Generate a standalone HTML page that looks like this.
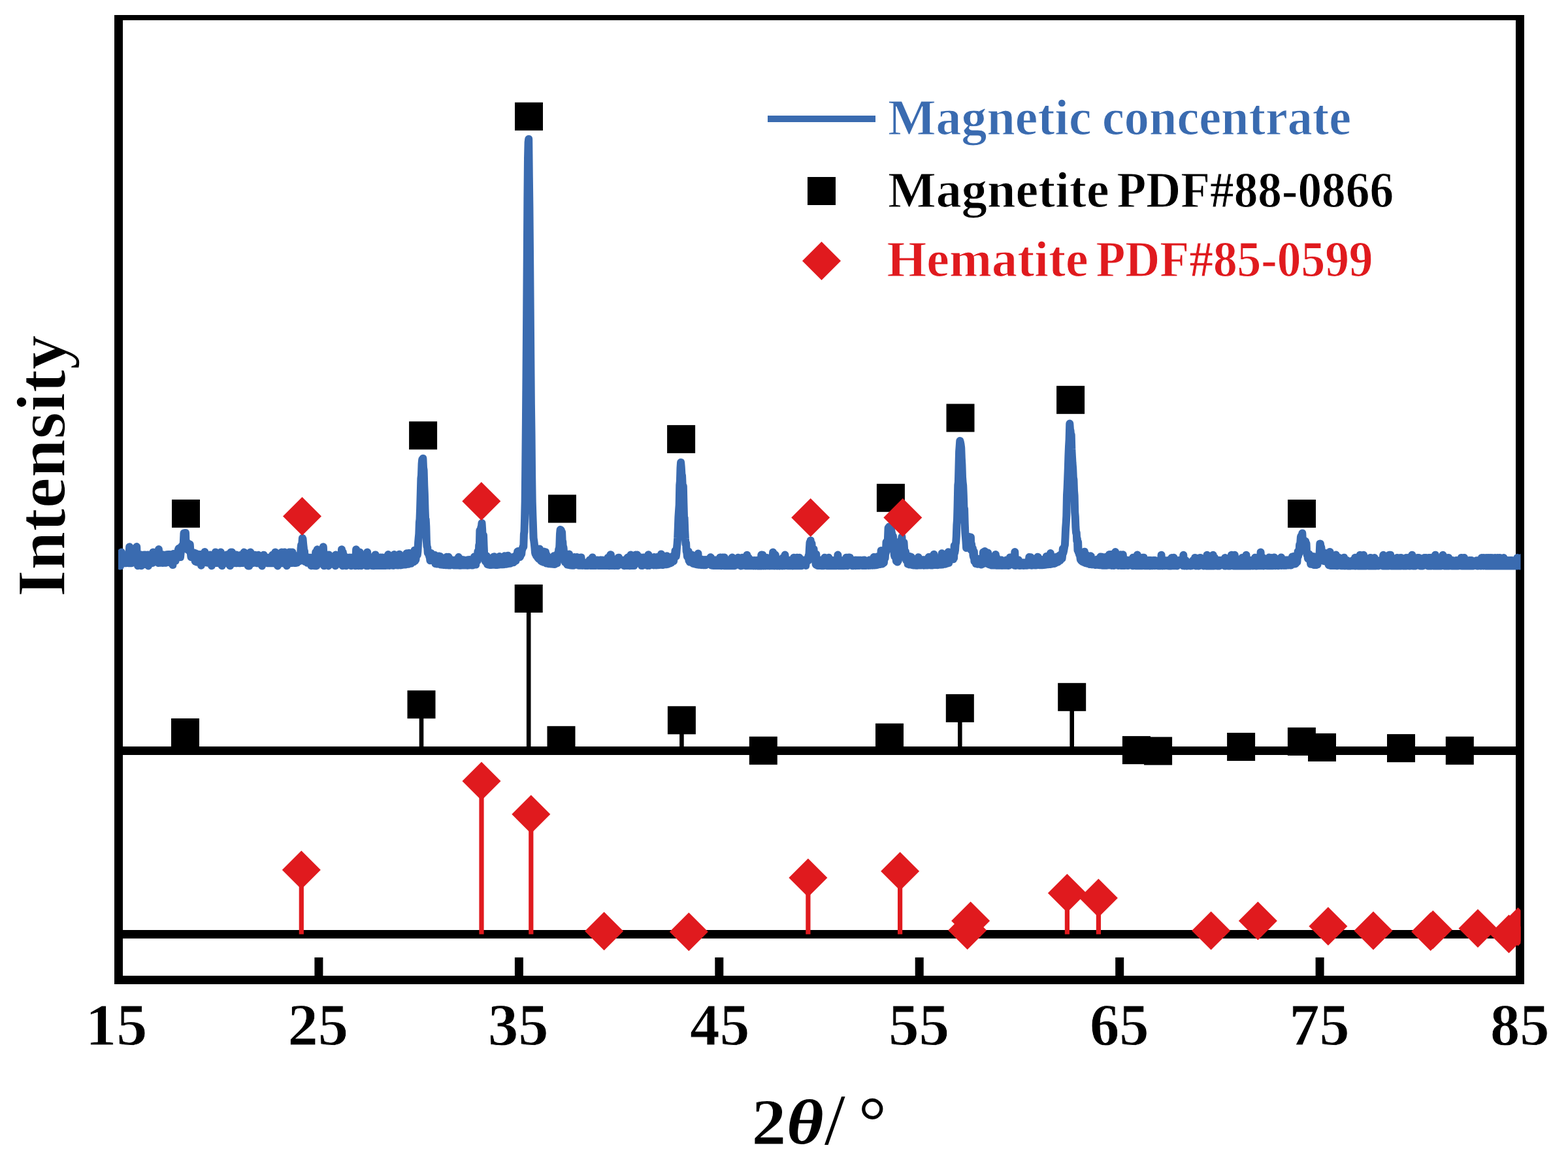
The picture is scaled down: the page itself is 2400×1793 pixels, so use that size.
<!DOCTYPE html>
<html><head><meta charset="utf-8"><title>XRD</title>
<style>
html,body{margin:0;padding:0;background:#fff;overflow:hidden;}
svg{display:block;}
</style></head>
<body>
<svg width="2400" height="1793" viewBox="0 0 2400 1793">
<rect width="2400" height="1793" fill="#fff"/>
<defs><clipPath id="pc"><rect x="181" y="31" width="2146.5" height="1463"/></clipPath></defs>
<!-- frame -->
<rect x="175" y="23" width="2158" height="8" fill="#000"/>
<rect x="175" y="1494" width="2158" height="13" fill="#000"/>
<rect x="175" y="23" width="13" height="1484" fill="#000"/>
<rect x="2320" y="23" width="13" height="1484" fill="#000"/>
<rect x="481.4" y="1466" width="13" height="28" fill="#000"/>
<rect x="787.9" y="1466" width="13" height="28" fill="#000"/>
<rect x="1094.3" y="1466" width="13" height="28" fill="#000"/>
<rect x="1400.7" y="1466" width="13" height="28" fill="#000"/>
<rect x="1707.2" y="1466" width="13" height="28" fill="#000"/>
<rect x="2013.6" y="1466" width="13" height="28" fill="#000"/>
<!-- baselines -->
<rect x="188" y="1143" width="2132" height="13" fill="#000"/>
<rect x="188" y="1424" width="2132" height="13" fill="#000"/>
<g clip-path="url(#pc)">
<rect x="280.2" y="1121.5" width="6.6" height="28.0" fill="#000"/>
<rect x="641.7" y="1078.7" width="6.6" height="70.8" fill="#000"/>
<rect x="805.9" y="916.5" width="6.6" height="233.0" fill="#000"/>
<rect x="855.7" y="1133.3" width="6.6" height="16.2" fill="#000"/>
<rect x="1040.1" y="1102.8" width="6.6" height="46.7" fill="#000"/>
<rect x="1358.2" y="1129.2" width="6.6" height="20.3" fill="#000"/>
<rect x="1466.0" y="1084.4" width="6.6" height="65.1" fill="#000"/>
<rect x="1637.4" y="1067.3" width="6.6" height="82.2" fill="#000"/>
<rect x="1896.3" y="1143.5" width="6.6" height="6.0" fill="#000"/>
<rect x="1989.1" y="1135.4" width="6.6" height="14.1" fill="#000"/>
<rect x="2020.2" y="1144.4" width="6.6" height="5.1" fill="#000"/>
<rect x="2141.2" y="1145.6" width="6.6" height="3.9" fill="#000"/>
<rect x="262.0" y="1100.0" width="43" height="43" fill="#000"/>
<rect x="623.5" y="1057.2" width="43" height="43" fill="#000"/>
<rect x="787.7" y="895.0" width="43" height="43" fill="#000"/>
<rect x="837.5" y="1111.8" width="43" height="43" fill="#000"/>
<rect x="1021.9" y="1081.3" width="43" height="43" fill="#000"/>
<rect x="1146.8" y="1127.8" width="43" height="43" fill="#000"/>
<rect x="1340.0" y="1107.7" width="43" height="43" fill="#000"/>
<rect x="1447.8" y="1062.9" width="43" height="43" fill="#000"/>
<rect x="1619.2" y="1045.8" width="43" height="43" fill="#000"/>
<rect x="1717.9" y="1127.1" width="43" height="43" fill="#000"/>
<rect x="1751.1" y="1128.4" width="43" height="43" fill="#000"/>
<rect x="1878.1" y="1122.0" width="43" height="43" fill="#000"/>
<rect x="1970.9" y="1113.9" width="43" height="43" fill="#000"/>
<rect x="2002.0" y="1122.9" width="43" height="43" fill="#000"/>
<rect x="2123.0" y="1124.1" width="43" height="43" fill="#000"/>
<rect x="2212.8" y="1127.8" width="43" height="43" fill="#000"/>
<rect x="457.7" y="1332.0" width="7.2" height="98.5" fill="#E01A1E"/>
<rect x="733.4" y="1196.0" width="7.2" height="234.5" fill="#E01A1E"/>
<rect x="809.2" y="1246.8" width="7.2" height="183.7" fill="#E01A1E"/>
<rect x="921.0" y="1425.8" width="7.2" height="4.7" fill="#E01A1E"/>
<rect x="1050.7" y="1426.7" width="7.2" height="3.8" fill="#E01A1E"/>
<rect x="1233.3" y="1344.0" width="7.2" height="86.5" fill="#E01A1E"/>
<rect x="1374.0" y="1333.9" width="7.2" height="96.6" fill="#E01A1E"/>
<rect x="1482.0" y="1410.0" width="7.2" height="20.5" fill="#E01A1E"/>
<rect x="1477.1" y="1424.5" width="7.2" height="6.0" fill="#E01A1E"/>
<rect x="1629.8" y="1367.6" width="7.2" height="62.9" fill="#E01A1E"/>
<rect x="1677.8" y="1375.1" width="7.2" height="55.4" fill="#E01A1E"/>
<rect x="1850.0" y="1425.0" width="7.2" height="5.5" fill="#E01A1E"/>
<rect x="1921.8" y="1410.0" width="7.2" height="20.5" fill="#E01A1E"/>
<rect x="2029.3" y="1418.3" width="7.2" height="12.2" fill="#E01A1E"/>
<rect x="2098.4" y="1425.0" width="7.2" height="5.5" fill="#E01A1E"/>
<rect x="2189.7" y="1423.5" width="7.2" height="7.0" fill="#E01A1E"/>
<rect x="2186.1" y="1426.4" width="7.2" height="4.1" fill="#E01A1E"/>
<rect x="2258.4" y="1421.5" width="7.2" height="9.0" fill="#E01A1E"/>
<rect x="2319.9" y="1419.0" width="7.2" height="11.5" fill="#E01A1E"/>
<path d="M461.3 1302.5L490.8 1332.0L461.3 1361.5L431.8 1332.0Z" fill="#E01A1E"/>
<path d="M737.0 1166.5L766.5 1196.0L737.0 1225.5L707.5 1196.0Z" fill="#E01A1E"/>
<path d="M812.8 1217.3L842.3 1246.8L812.8 1276.3L783.3 1246.8Z" fill="#E01A1E"/>
<path d="M924.6 1396.3L954.1 1425.8L924.6 1455.3L895.1 1425.8Z" fill="#E01A1E"/>
<path d="M1054.3 1397.2L1083.8 1426.7L1054.3 1456.2L1024.8 1426.7Z" fill="#E01A1E"/>
<path d="M1236.9 1314.5L1266.4 1344.0L1236.9 1373.5L1207.4 1344.0Z" fill="#E01A1E"/>
<path d="M1377.6 1304.4L1407.1 1333.9L1377.6 1363.4L1348.1 1333.9Z" fill="#E01A1E"/>
<path d="M1485.6 1380.5L1515.1 1410.0L1485.6 1439.5L1456.1 1410.0Z" fill="#E01A1E"/>
<path d="M1480.7 1395.0L1510.2 1424.5L1480.7 1454.0L1451.2 1424.5Z" fill="#E01A1E"/>
<path d="M1633.4 1338.1L1662.9 1367.6L1633.4 1397.1L1603.9 1367.6Z" fill="#E01A1E"/>
<path d="M1681.4 1345.6L1710.9 1375.1L1681.4 1404.6L1651.9 1375.1Z" fill="#E01A1E"/>
<path d="M1853.6 1395.5L1883.1 1425.0L1853.6 1454.5L1824.1 1425.0Z" fill="#E01A1E"/>
<path d="M1925.4 1380.5L1954.9 1410.0L1925.4 1439.5L1895.9 1410.0Z" fill="#E01A1E"/>
<path d="M2032.9 1388.8L2062.4 1418.3L2032.9 1447.8L2003.4 1418.3Z" fill="#E01A1E"/>
<path d="M2102.0 1395.5L2131.5 1425.0L2102.0 1454.5L2072.5 1425.0Z" fill="#E01A1E"/>
<path d="M2193.3 1394.0L2222.8 1423.5L2193.3 1453.0L2163.8 1423.5Z" fill="#E01A1E"/>
<path d="M2189.7 1396.9L2219.2 1426.4L2189.7 1455.9L2160.2 1426.4Z" fill="#E01A1E"/>
<path d="M2262.0 1392.0L2291.5 1421.5L2262.0 1451.0L2232.5 1421.5Z" fill="#E01A1E"/>
<path d="M2309.5 1400.5L2339.0 1430.0L2309.5 1459.5L2280.0 1430.0Z" fill="#E01A1E"/>
<path d="M2323.5 1389.5L2353.0 1419.0L2323.5 1448.5L2294.0 1419.0Z" fill="#E01A1E"/>
<polyline points="181.0,853.9 181.6,862.2 182.2,858.0 182.8,858.1 183.5,858.0 184.1,866.5 184.7,858.1 185.3,858.1 185.9,845.6 186.5,858.0 187.1,858.1 187.7,853.9 188.4,862.3 189.0,858.1 189.6,858.1 190.2,858.1 190.8,858.1 191.4,853.9 192.0,858.1 192.6,862.3 193.3,858.0 193.9,853.9 194.5,853.9 195.1,849.7 195.7,858.0 196.3,858.0 196.9,862.2 197.5,849.7 198.2,837.2 198.8,858.1 199.4,849.8 200.0,862.2 200.6,853.9 201.2,862.2 201.8,853.9 202.5,858.0 203.1,853.8 203.7,853.9 204.3,849.7 204.9,858.0 205.5,849.7 206.1,858.0 206.7,845.5 207.4,858.1 208.0,862.2 208.6,849.7 209.2,837.1 209.8,857.9 210.4,853.8 211.0,866.3 211.6,853.9 212.3,857.9 212.9,853.7 213.5,853.8 214.1,862.2 214.7,857.9 215.3,858.0 215.9,849.6 216.5,866.3 217.2,853.8 217.8,853.8 218.4,853.8 219.0,858.0 219.6,857.9 220.2,853.8 220.8,849.6 221.5,858.0 222.1,853.8 222.7,849.6 223.3,853.7 223.9,853.8 224.5,862.1 225.1,862.1 225.7,857.9 226.4,849.6 227.0,866.4 227.6,853.7 228.2,857.9 228.8,862.1 229.4,857.8 230.0,858.0 230.6,862.0 231.3,857.9 231.9,853.7 232.5,853.7 233.1,862.0 233.7,862.0 234.3,845.4 234.9,857.9 235.5,853.7 236.2,853.6 236.8,857.8 237.4,853.7 238.0,853.6 238.6,849.4 239.2,857.7 239.8,857.9 240.5,857.8 241.1,845.3 241.7,857.8 242.3,862.0 242.9,841.0 243.5,853.6 244.1,853.6 244.7,849.4 245.4,861.8 246.0,857.7 246.6,857.6 247.2,857.7 247.8,853.6 248.4,849.3 249.0,861.9 249.6,857.7 250.3,861.7 250.9,861.7 251.5,853.4 252.1,857.6 252.7,861.8 253.3,857.6 253.9,861.7 254.5,849.2 255.2,857.6 255.8,853.4 256.4,853.2 257.0,849.0 257.6,849.1 258.2,849.0 258.8,857.2 259.5,848.9 260.1,861.4 260.7,857.4 261.3,857.3 261.9,857.3 262.5,853.1 263.1,861.1 263.7,856.7 264.4,865.1 265.0,856.4 265.6,847.9 266.2,851.9 266.8,856.0 267.4,855.2 268.0,854.8 268.6,858.8 269.3,849.5 269.9,853.5 270.5,853.0 271.1,852.2 271.7,851.8 272.3,846.4 272.9,841.6 273.5,839.8 274.2,847.4 274.8,851.0 275.4,840.9 276.0,853.1 276.6,847.0 277.2,841.6 277.8,836.5 278.5,835.9 279.1,838.5 279.7,841.1 280.3,838.3 280.9,829.2 281.5,816.2 282.1,817.4 282.7,827.1 283.4,821.3 284.0,816.0 284.6,835.9 285.2,831.4 285.8,836.8 286.4,841.1 287.0,835.2 287.6,831.8 288.3,837.0 288.9,841.8 289.5,838.9 290.1,844.3 290.7,833.4 291.3,842.1 291.9,847.5 292.5,853.0 293.2,849.6 293.8,846.1 294.4,847.6 295.0,852.5 295.6,853.1 296.2,849.5 296.8,846.3 297.5,850.5 298.1,854.8 298.7,859.6 299.3,847.2 299.9,852.2 300.5,860.4 301.1,856.3 301.7,856.4 302.4,848.5 303.0,852.8 303.6,861.1 304.2,857.2 304.8,853.0 305.4,849.0 306.0,848.9 306.6,849.0 307.3,861.4 307.9,865.7 308.5,861.6 309.1,857.4 309.7,853.4 310.3,861.7 310.9,861.7 311.5,857.5 312.2,853.3 312.8,857.7 313.4,845.0 314.0,857.5 314.6,849.4 315.2,857.5 315.8,857.7 316.5,861.6 317.1,853.4 317.7,861.8 318.3,853.5 318.9,857.6 319.5,861.9 320.1,857.8 320.7,862.0 321.4,849.4 322.0,857.8 322.6,861.9 323.2,861.9 323.8,866.2 324.4,853.6 325.0,857.8 325.6,857.8 326.3,853.6 326.9,857.8 327.5,857.8 328.1,857.8 328.7,853.7 329.3,853.7 329.9,845.4 330.5,849.4 331.2,862.0 331.8,857.7 332.4,849.7 333.0,862.1 333.6,857.9 334.2,853.7 334.8,853.6 335.5,862.1 336.1,857.9 336.7,857.9 337.3,853.7 337.9,845.5 338.5,857.9 339.1,857.9 339.7,866.3 340.4,857.9 341.0,857.9 341.6,862.1 342.2,857.9 342.8,858.0 343.4,857.9 344.0,858.0 344.6,853.8 345.3,862.1 345.9,853.8 346.5,857.9 347.1,849.6 347.7,857.9 348.3,862.2 348.9,849.6 349.5,858.0 350.2,858.0 350.8,858.0 351.4,858.1 352.0,866.3 352.6,858.0 353.2,845.6 353.8,853.8 354.5,858.0 355.1,845.5 355.7,858.0 356.3,858.0 356.9,858.0 357.5,862.2 358.1,858.0 358.7,853.8 359.4,849.7 360.0,858.0 360.6,858.0 361.2,862.2 361.8,849.6 362.4,862.1 363.0,862.2 363.6,858.1 364.3,858.0 364.9,853.9 365.5,862.2 366.1,858.1 366.7,853.8 367.3,853.8 367.9,862.2 368.5,849.7 369.2,858.0 369.8,853.8 370.4,858.0 371.0,858.0 371.6,862.1 372.2,853.9 372.8,849.7 373.5,845.6 374.1,857.9 374.7,858.0 375.3,858.0 375.9,853.9 376.5,849.7 377.1,862.3 377.7,849.6 378.4,853.9 379.0,849.7 379.6,866.4 380.2,853.9 380.8,858.0 381.4,866.4 382.0,862.2 382.6,858.1 383.3,845.5 383.9,862.2 384.5,858.0 385.1,862.2 385.7,853.9 386.3,849.7 386.9,862.2 387.5,853.9 388.2,858.1 388.8,858.0 389.4,853.9 390.0,849.7 390.6,858.0 391.2,858.0 391.8,858.1 392.5,862.2 393.1,853.9 393.7,858.0 394.3,862.2 394.9,862.2 395.5,849.7 396.1,858.0 396.7,862.2 397.4,853.9 398.0,862.2 398.6,853.9 399.2,858.0 399.8,858.1 400.4,858.1 401.0,866.4 401.6,862.2 402.3,862.3 402.9,858.0 403.5,849.7 404.1,858.1 404.7,853.9 405.3,858.1 405.9,858.0 406.5,858.1 407.2,853.9 407.8,858.1 408.4,853.9 409.0,862.2 409.6,853.8 410.2,858.1 410.8,862.2 411.5,858.0 412.1,853.9 412.7,858.1 413.3,862.2 413.9,862.2 414.5,862.2 415.1,858.1 415.7,858.0 416.4,858.1 417.0,849.7 417.6,862.3 418.2,862.3 418.8,849.7 419.4,853.8 420.0,862.2 420.6,862.3 421.3,845.5 421.9,849.7 422.5,862.2 423.1,858.1 423.7,862.2 424.3,853.9 424.9,866.4 425.5,853.8 426.2,858.1 426.8,858.0 427.4,853.8 428.0,849.7 428.6,853.8 429.2,858.0 429.8,862.2 430.5,862.2 431.1,845.5 431.7,858.0 432.3,862.2 432.9,849.7 433.5,858.0 434.1,853.9 434.7,849.7 435.4,845.5 436.0,849.7 436.6,853.8 437.2,853.8 437.8,849.7 438.4,849.6 439.0,866.3 439.6,853.8 440.3,853.9 440.9,849.6 441.5,858.0 442.1,849.6 442.7,845.5 443.3,858.0 443.9,849.6 444.5,862.1 445.2,845.4 445.8,862.1 446.4,858.0 447.0,862.0 447.6,845.6 448.2,853.7 448.8,853.8 449.5,849.5 450.1,853.8 450.7,862.0 451.3,862.1 451.9,857.9 452.5,861.9 453.1,861.9 453.7,857.8 454.4,861.7 455.0,853.5 455.6,857.4 456.2,857.5 456.8,853.2 457.4,856.9 458.0,856.4 458.6,859.1 459.3,853.2 459.9,853.2 460.5,840.1 461.1,834.4 461.7,840.8 462.3,833.1 462.9,824.0 463.5,825.3 464.2,833.6 464.8,838.5 465.4,847.4 466.0,844.1 466.6,859.8 467.2,854.2 467.8,851.4 468.5,856.5 469.1,853.0 469.7,853.3 470.3,861.8 470.9,861.8 471.5,853.5 472.1,861.9 472.7,857.8 473.4,857.8 474.0,861.9 474.6,861.9 475.2,853.7 475.8,857.8 476.4,866.2 477.0,862.1 477.6,862.1 478.3,858.0 478.9,862.1 479.5,857.9 480.1,858.0 480.7,866.3 481.3,853.8 481.9,858.0 482.5,862.2 483.2,845.4 483.8,866.4 484.4,866.3 485.0,858.0 485.6,841.3 486.2,849.6 486.8,858.0 487.4,853.8 488.1,853.8 488.7,862.2 489.3,853.9 489.9,858.0 490.5,853.8 491.1,858.0 491.7,862.2 492.4,849.7 493.0,853.8 493.6,853.9 494.2,858.0 494.8,837.2 495.4,849.7 496.0,866.3 496.6,862.2 497.3,862.2 497.9,853.8 498.5,862.2 499.1,858.0 499.7,858.1 500.3,853.9 500.9,849.6 501.5,853.9 502.2,858.0 502.8,866.4 503.4,849.6 504.0,853.8 504.6,853.8 505.2,857.9 505.8,862.2 506.4,853.8 507.1,858.0 507.7,862.2 508.3,862.2 508.9,862.2 509.5,862.2 510.1,857.9 510.7,858.1 511.4,862.2 512.0,862.2 512.6,862.2 513.2,866.3 513.8,849.6 514.4,862.2 515.0,858.0 515.6,857.9 516.3,858.0 516.9,862.2 517.5,862.2 518.1,858.0 518.7,862.2 519.3,858.0 519.9,862.2 520.5,849.7 521.2,858.0 521.8,858.0 522.4,853.9 523.0,841.3 523.6,862.1 524.2,866.3 524.8,845.5 525.4,862.2 526.1,849.7 526.7,862.2 527.3,853.8 527.9,858.0 528.5,862.2 529.1,862.2 529.7,866.3 530.4,862.2 531.0,853.8 531.6,862.1 532.2,862.1 532.8,858.0 533.4,858.0 534.0,853.7 534.6,857.9 535.3,858.0 535.9,853.8 536.5,857.9 537.1,866.3 537.7,862.2 538.3,853.8 538.9,857.9 539.5,862.1 540.2,853.8 540.8,862.1 541.4,862.2 542.0,857.9 542.6,857.9 543.2,866.2 543.8,853.8 544.4,866.3 545.1,841.2 545.7,857.9 546.3,862.2 546.9,862.1 547.5,849.6 548.1,857.9 548.7,866.3 549.4,862.0 550.0,857.9 550.6,845.4 551.2,853.7 551.8,857.9 552.4,866.3 553.0,862.1 553.6,862.1 554.3,862.1 554.9,849.5 555.5,862.1 556.1,857.9 556.7,857.9 557.3,862.1 557.9,853.7 558.5,853.7 559.2,849.6 559.8,862.1 560.4,866.3 561.0,857.8 561.6,857.9 562.2,845.4 562.8,862.1 563.4,866.2 564.1,857.9 564.7,862.0 565.3,862.1 565.9,862.1 566.5,861.9 567.1,857.9 567.7,857.8 568.4,853.6 569.0,862.1 569.6,866.1 570.2,862.0 570.8,866.2 571.4,862.0 572.0,866.2 572.6,866.3 573.3,861.9 573.9,853.6 574.5,849.4 575.1,853.6 575.7,866.1 576.3,861.9 576.9,861.9 577.5,861.8 578.2,857.7 578.8,866.0 579.4,861.9 580.0,866.1 580.6,861.9 581.2,866.0 581.8,861.9 582.4,853.4 583.1,857.7 583.7,861.9 584.3,865.9 584.9,853.5 585.5,861.8 586.1,861.8 586.7,866.0 587.4,861.9 588.0,861.8 588.6,857.7 589.2,861.9 589.8,853.4 590.4,866.0 591.0,861.8 591.6,853.6 592.3,857.6 592.9,857.4 593.5,865.8 594.1,849.1 594.7,861.7 595.3,857.4 595.9,861.7 596.5,865.9 597.2,861.6 597.8,857.6 598.4,861.6 599.0,857.4 599.6,865.6 600.2,861.6 600.8,865.7 601.4,853.3 602.1,861.6 602.7,865.9 603.3,849.1 603.9,865.5 604.5,861.4 605.1,853.1 605.7,865.3 606.4,861.3 607.0,857.3 607.6,865.5 608.2,852.9 608.8,861.1 609.4,865.5 610.0,857.0 610.6,856.9 611.3,848.7 611.9,852.7 612.5,852.9 613.1,861.0 613.7,865.4 614.3,856.8 614.9,856.5 615.5,864.9 616.2,856.6 616.8,856.5 617.4,864.5 618.0,856.3 618.6,864.5 619.2,856.3 619.8,864.6 620.4,864.6 621.1,860.2 621.7,864.4 622.3,847.3 622.9,847.3 623.5,855.6 624.1,859.7 624.7,851.7 625.4,863.7 626.0,846.7 626.6,850.6 627.2,855.3 627.8,850.8 628.4,862.7 629.0,862.7 629.6,858.1 630.3,853.7 630.9,849.0 631.5,857.6 632.1,857.0 632.7,860.4 633.3,860.2 633.9,855.8 634.5,842.5 635.2,858.6 635.8,854.0 636.4,856.8 637.0,851.4 637.6,850.1 638.2,847.5 638.8,849.5 639.4,844.3 640.1,830.6 640.7,823.4 641.3,817.4 641.9,799.7 642.5,794.9 643.1,778.5 643.7,757.5 644.4,732.4 645.0,727.7 645.6,710.0 646.2,703.7 646.8,707.1 647.4,702.0 648.0,715.8 648.6,719.8 649.3,743.5 649.9,756.8 650.5,778.8 651.1,794.3 651.7,795.3 652.3,806.4 652.9,829.1 653.5,836.5 654.2,838.3 654.8,846.6 655.4,846.9 656.0,848.9 656.6,847.0 657.2,852.4 657.8,852.9 658.4,858.2 659.1,850.8 659.7,847.0 660.3,856.0 660.9,851.9 661.5,852.7 662.1,857.0 662.7,857.5 663.4,857.7 664.0,853.8 664.6,854.2 665.2,858.4 665.8,850.1 666.4,863.1 667.0,859.1 667.6,863.2 668.3,863.6 668.9,863.4 669.5,863.6 670.1,860.0 670.7,859.9 671.3,855.9 671.9,851.5 672.5,851.6 673.2,860.3 673.8,852.0 674.4,864.5 675.0,856.3 675.6,864.5 676.2,860.4 676.8,864.7 677.4,864.6 678.1,864.7 678.7,864.9 679.3,865.0 679.9,865.1 680.5,860.8 681.1,856.6 681.7,865.0 682.4,865.2 683.0,865.2 683.6,852.7 684.2,856.7 684.8,856.9 685.4,865.3 686.0,865.4 686.6,852.8 687.3,865.3 687.9,865.5 688.5,865.2 689.1,865.5 689.7,861.2 690.3,861.3 690.9,857.1 691.5,861.4 692.2,861.4 692.8,861.3 693.4,861.4 694.0,861.4 694.6,865.5 695.2,861.3 695.8,865.6 696.4,861.4 697.1,861.3 697.7,857.3 698.3,865.6 698.9,861.4 699.5,861.6 700.1,861.6 700.7,865.6 701.4,861.4 702.0,853.1 702.6,865.7 703.2,865.7 703.8,861.4 704.4,861.5 705.0,865.8 705.6,857.3 706.3,861.5 706.9,865.6 707.5,865.6 708.1,857.2 708.7,865.6 709.3,861.5 709.9,857.5 710.5,865.6 711.2,861.5 711.8,861.4 712.4,861.4 713.0,861.4 713.6,865.5 714.2,861.5 714.8,861.5 715.4,865.7 716.1,857.3 716.7,861.4 717.3,865.5 717.9,865.6 718.5,857.1 719.1,861.1 719.7,861.5 720.4,861.4 721.0,857.1 721.6,865.4 722.2,865.2 722.8,861.1 723.4,865.4 724.0,865.4 724.6,856.9 725.3,861.0 725.9,852.6 726.5,856.8 727.1,852.3 727.7,860.8 728.3,864.6 728.9,851.9 729.5,856.0 730.2,855.2 730.8,858.4 731.4,844.2 732.0,853.7 732.6,854.1 733.2,834.6 733.8,840.3 734.4,812.1 735.1,821.3 735.7,815.7 736.3,807.6 736.9,806.6 737.5,801.0 738.1,809.8 738.7,824.3 739.4,828.4 740.0,819.5 740.6,835.6 741.2,848.7 741.8,854.7 742.4,857.4 743.0,860.0 743.6,857.9 744.3,854.8 744.9,851.4 745.5,855.8 746.1,864.2 746.7,856.1 747.3,860.5 747.9,864.6 748.5,860.9 749.2,860.4 749.8,864.9 750.4,860.9 751.0,856.7 751.6,865.1 752.2,860.8 752.8,860.8 753.4,861.1 754.1,864.8 754.7,864.8 755.3,852.6 755.9,864.8 756.5,852.3 757.1,864.8 757.7,860.6 758.4,865.1 759.0,860.7 759.6,856.7 760.2,860.4 760.8,865.0 761.4,865.0 762.0,860.5 762.6,864.7 763.3,860.6 763.9,860.5 764.5,852.1 765.1,864.4 765.7,856.3 766.3,856.3 766.9,856.2 767.5,860.3 768.2,864.4 768.8,856.2 769.4,864.3 770.0,856.1 770.6,855.9 771.2,864.2 771.8,859.9 772.4,851.2 773.1,863.6 773.7,863.7 774.3,859.3 774.9,863.7 775.5,855.0 776.1,863.5 776.7,855.0 777.4,850.7 778.0,855.1 778.6,859.0 779.2,862.9 779.8,862.7 780.4,854.3 781.0,862.7 781.6,858.4 782.3,853.8 782.9,853.9 783.5,857.9 784.1,853.3 784.7,857.2 785.3,861.3 785.9,861.3 786.5,860.5 787.2,860.1 787.8,856.0 788.4,851.4 789.0,855.8 789.6,858.7 790.2,854.7 790.8,849.5 791.4,853.6 792.1,844.6 792.7,852.4 793.3,843.9 793.9,850.1 794.5,846.6 795.1,845.2 795.7,853.0 796.4,851.9 797.0,846.0 797.6,846.1 798.2,848.3 798.8,842.5 799.4,841.0 800.0,838.9 800.6,836.8 801.3,837.4 801.9,818.0 802.5,814.3 803.1,794.0 803.7,767.6 804.3,710.8 804.9,648.4 805.5,575.9 806.2,480.0 806.8,391.5 807.4,305.1 808.0,242.8 808.6,218.0 809.2,213.0 809.8,270.0 810.4,316.3 811.1,395.6 811.7,472.8 812.3,548.7 812.9,619.3 813.5,663.8 814.1,726.9 814.7,768.3 815.4,790.0 816.0,806.1 816.6,823.9 817.2,827.9 817.8,832.6 818.4,838.7 819.0,846.1 819.6,848.5 820.3,841.0 820.9,850.9 821.5,847.0 822.1,848.4 822.7,853.1 823.3,854.3 823.9,841.9 824.5,855.7 825.2,848.0 825.8,840.6 826.4,853.5 827.0,853.7 827.6,858.6 828.2,849.9 828.8,855.1 829.4,859.8 830.1,855.5 830.7,852.1 831.3,847.9 831.9,860.8 832.5,844.6 833.1,848.5 833.7,849.0 834.4,857.3 835.0,845.3 835.6,849.9 836.2,862.5 836.8,850.0 837.4,854.3 838.0,858.5 838.6,854.4 839.3,863.2 839.9,863.0 840.5,859.2 841.1,859.2 841.7,858.7 842.3,859.0 842.9,863.6 843.5,854.9 844.2,859.2 844.8,863.5 845.4,859.3 846.0,863.8 846.6,863.8 847.2,859.8 847.8,851.2 848.4,864.0 849.1,859.7 849.7,863.7 850.3,859.6 850.9,859.4 851.5,859.0 852.1,850.8 852.7,862.2 853.4,853.0 854.0,846.7 854.6,855.2 855.2,841.1 855.8,842.9 856.4,834.5 857.0,817.5 857.6,811.0 858.3,811.1 858.9,812.1 859.5,814.8 860.1,814.8 860.7,828.9 861.3,829.7 861.9,840.9 862.5,838.4 863.2,846.6 863.8,855.3 864.4,858.9 865.0,861.0 865.6,858.5 866.2,855.3 866.8,859.8 867.4,851.9 868.1,864.5 868.7,856.7 869.3,860.6 869.9,856.6 870.5,865.1 871.1,848.5 871.7,852.7 872.4,865.4 873.0,857.0 873.6,861.1 874.2,857.2 874.8,861.3 875.4,865.7 876.0,865.5 876.6,861.3 877.3,857.2 877.9,865.5 878.5,865.7 879.1,853.0 879.7,861.5 880.3,861.4 880.9,857.3 881.5,857.4 882.2,861.4 882.8,857.4 883.4,853.1 884.0,857.4 884.6,857.4 885.2,865.7 885.8,861.6 886.4,857.4 887.1,865.8 887.7,865.8 888.3,857.5 888.9,861.7 889.5,853.4 890.1,861.9 890.7,861.7 891.4,865.9 892.0,865.8 892.6,865.8 893.2,861.6 893.8,861.6 894.4,861.7 895.0,861.8 895.6,865.9 896.3,861.8 896.9,866.0 897.5,865.8 898.1,861.7 898.7,865.9 899.3,861.9 899.9,866.0 900.5,865.9 901.2,861.9 901.8,861.8 902.4,857.6 903.0,862.0 903.6,865.9 904.2,857.7 904.8,857.7 905.4,865.9 906.1,857.8 906.7,853.5 907.3,866.1 907.9,861.9 908.5,861.9 909.1,857.6 909.7,857.8 910.4,857.7 911.0,861.8 911.6,866.1 912.2,861.9 912.8,861.9 913.4,857.7 914.0,861.9 914.6,857.7 915.3,857.8 915.9,866.1 916.5,861.9 917.1,861.9 917.7,861.8 918.3,857.9 918.9,857.6 919.5,866.1 920.2,857.8 920.8,862.0 921.4,857.7 922.0,866.1 922.6,866.1 923.2,857.8 923.8,861.9 924.4,862.0 925.1,857.7 925.7,857.7 926.3,866.1 926.9,857.9 927.5,857.7 928.1,857.8 928.7,862.0 929.4,866.0 930.0,866.1 930.6,853.7 931.2,862.1 931.8,862.0 932.4,866.2 933.0,866.1 933.6,866.0 934.3,849.3 934.9,849.5 935.5,866.1 936.1,866.1 936.7,866.1 937.3,857.9 937.9,866.1 938.5,866.1 939.2,857.8 939.8,866.1 940.4,866.2 941.0,857.7 941.6,862.0 942.2,866.1 942.8,857.8 943.4,857.8 944.1,866.1 944.7,862.0 945.3,866.1 945.9,866.2 946.5,853.7 947.1,853.7 947.7,857.8 948.4,861.9 949.0,861.9 949.6,862.0 950.2,857.8 950.8,862.0 951.4,861.9 952.0,862.0 952.6,857.9 953.3,862.1 953.9,861.9 954.5,857.7 955.1,866.2 955.7,866.0 956.3,857.8 956.9,857.8 957.5,866.1 958.2,862.0 958.8,862.0 959.4,862.1 960.0,866.1 960.6,853.6 961.2,861.9 961.8,866.1 962.4,861.9 963.1,861.9 963.7,866.2 964.3,861.9 964.9,866.1 965.5,849.4 966.1,866.0 966.7,857.7 967.4,866.0 968.0,861.9 968.6,866.1 969.2,861.8 969.8,857.7 970.4,866.1 971.0,861.9 971.6,857.8 972.3,861.9 972.9,849.4 973.5,857.7 974.1,857.7 974.7,861.8 975.3,849.4 975.9,862.0 976.5,853.6 977.2,857.8 977.8,857.8 978.4,861.9 979.0,861.8 979.6,861.9 980.2,862.0 980.8,853.5 981.4,861.6 982.1,866.0 982.7,866.0 983.3,866.0 983.9,865.9 984.5,857.5 985.1,853.5 985.7,857.5 986.4,857.7 987.0,857.6 987.6,857.7 988.2,853.4 988.8,861.8 989.4,861.7 990.0,857.6 990.6,865.9 991.3,865.9 991.9,861.7 992.5,849.2 993.1,857.6 993.7,865.9 994.3,861.6 994.9,861.6 995.5,861.6 996.2,861.5 996.8,861.6 997.4,857.4 998.0,861.5 998.6,857.3 999.2,857.3 999.8,857.3 1000.4,865.5 1001.1,853.1 1001.7,857.3 1002.3,857.2 1002.9,857.1 1003.5,861.2 1004.1,861.3 1004.7,865.4 1005.4,861.2 1006.0,852.9 1006.6,857.0 1007.2,865.3 1007.8,857.0 1008.4,856.8 1009.0,857.0 1009.6,865.1 1010.3,860.8 1010.9,852.4 1011.5,856.7 1012.1,848.4 1012.7,861.0 1013.3,864.9 1013.9,856.2 1014.5,856.7 1015.2,864.9 1015.8,856.2 1016.4,864.5 1017.0,860.6 1017.6,860.3 1018.2,851.8 1018.8,860.3 1019.4,859.8 1020.1,864.2 1020.7,851.2 1021.3,855.4 1021.9,859.6 1022.5,863.8 1023.1,859.2 1023.7,859.0 1024.4,854.6 1025.0,854.5 1025.6,862.6 1026.2,857.9 1026.8,853.9 1027.4,861.7 1028.0,852.9 1028.6,852.7 1029.3,856.2 1029.9,851.4 1030.5,855.6 1031.1,859.0 1031.7,855.1 1032.3,849.4 1032.9,852.2 1033.5,843.2 1034.2,848.9 1034.8,851.8 1035.4,847.0 1036.0,838.9 1036.6,832.7 1037.2,823.8 1037.8,808.6 1038.4,791.9 1039.1,781.4 1039.7,772.9 1040.3,742.7 1040.9,737.0 1041.5,716.4 1042.1,708.0 1042.7,714.7 1043.4,726.2 1044.0,728.2 1044.6,741.4 1045.2,751.4 1045.8,744.4 1046.4,770.7 1047.0,791.2 1047.6,792.9 1048.3,812.6 1048.9,825.1 1049.5,833.4 1050.1,831.7 1050.7,844.8 1051.3,845.2 1051.9,852.3 1052.5,850.2 1053.2,851.8 1053.8,844.6 1054.4,858.3 1055.0,850.7 1055.6,860.4 1056.2,855.8 1056.8,856.9 1057.4,852.8 1058.1,856.8 1058.7,849.4 1059.3,854.1 1059.9,862.0 1060.5,862.7 1061.1,862.9 1061.7,863.1 1062.4,863.1 1063.0,859.1 1063.6,863.6 1064.2,863.5 1064.8,864.0 1065.4,863.9 1066.0,864.2 1066.6,859.9 1067.3,851.9 1067.9,864.5 1068.5,847.6 1069.1,864.7 1069.7,860.6 1070.3,864.7 1070.9,860.7 1071.5,860.7 1072.2,864.9 1072.8,864.7 1073.4,865.2 1074.0,865.1 1074.6,856.8 1075.2,861.1 1075.8,865.2 1076.4,865.2 1077.1,861.2 1077.7,865.2 1078.3,861.3 1078.9,861.3 1079.5,857.1 1080.1,865.2 1080.7,861.5 1081.4,861.3 1082.0,857.0 1082.6,857.3 1083.2,861.3 1083.8,861.4 1084.4,861.6 1085.0,861.5 1085.6,857.4 1086.3,861.5 1086.9,857.5 1087.5,853.2 1088.1,853.5 1088.7,857.5 1089.3,865.7 1089.9,865.8 1090.5,857.5 1091.2,865.9 1091.8,861.7 1092.4,861.5 1093.0,865.9 1093.6,865.9 1094.2,861.8 1094.8,866.0 1095.4,857.6 1096.1,861.8 1096.7,866.0 1097.3,857.7 1097.9,861.8 1098.5,866.0 1099.1,857.7 1099.7,866.0 1100.3,866.1 1101.0,865.9 1101.6,857.7 1102.2,853.6 1102.8,853.5 1103.4,861.9 1104.0,866.2 1104.6,857.7 1105.3,866.0 1105.9,861.9 1106.5,853.5 1107.1,862.0 1107.7,862.0 1108.3,866.2 1108.9,853.5 1109.5,866.2 1110.2,857.8 1110.8,857.7 1111.4,866.2 1112.0,866.2 1112.6,866.1 1113.2,862.0 1113.8,866.2 1114.4,862.0 1115.1,862.0 1115.7,866.2 1116.3,857.8 1116.9,866.2 1117.5,862.0 1118.1,862.1 1118.7,866.1 1119.3,866.2 1120.0,866.1 1120.6,853.6 1121.2,857.8 1121.8,866.2 1122.4,866.3 1123.0,857.8 1123.6,857.9 1124.3,866.1 1124.9,866.2 1125.5,862.0 1126.1,858.0 1126.7,862.0 1127.3,857.8 1127.9,862.1 1128.5,862.1 1129.2,862.1 1129.8,853.8 1130.4,857.8 1131.0,857.8 1131.6,862.1 1132.2,862.0 1132.8,862.1 1133.4,866.2 1134.1,866.4 1134.7,862.1 1135.3,866.2 1135.9,853.8 1136.5,862.0 1137.1,862.1 1137.7,862.0 1138.3,857.9 1139.0,862.1 1139.6,858.0 1140.2,862.1 1140.8,866.2 1141.4,866.3 1142.0,862.1 1142.6,866.1 1143.3,849.7 1143.9,853.8 1144.5,862.1 1145.1,866.3 1145.7,853.8 1146.3,862.1 1146.9,862.2 1147.5,866.3 1148.2,862.2 1148.8,866.3 1149.4,857.9 1150.0,862.2 1150.6,862.1 1151.2,857.9 1151.8,862.1 1152.4,866.3 1153.1,862.1 1153.7,866.4 1154.3,866.3 1154.9,858.0 1155.5,858.0 1156.1,866.4 1156.7,862.1 1157.3,862.2 1158.0,866.3 1158.6,858.0 1159.2,866.4 1159.8,862.1 1160.4,866.3 1161.0,862.1 1161.6,866.4 1162.3,862.2 1162.9,858.0 1163.5,866.4 1164.1,857.9 1164.7,866.4 1165.3,849.6 1165.9,866.4 1166.5,858.1 1167.2,849.7 1167.8,862.1 1168.4,866.4 1169.0,866.4 1169.6,853.9 1170.2,862.2 1170.8,858.0 1171.4,866.4 1172.1,866.3 1172.7,862.2 1173.3,862.3 1173.9,853.9 1174.5,866.3 1175.1,862.2 1175.7,866.3 1176.3,862.2 1177.0,858.0 1177.6,862.2 1178.2,866.4 1178.8,858.0 1179.4,858.1 1180.0,858.0 1180.6,858.1 1181.3,862.1 1181.9,866.3 1182.5,862.2 1183.1,845.5 1183.7,858.0 1184.3,862.1 1184.9,862.2 1185.5,866.4 1186.2,858.0 1186.8,849.6 1187.4,862.3 1188.0,858.0 1188.6,858.0 1189.2,866.4 1189.8,866.4 1190.4,862.1 1191.1,866.3 1191.7,862.1 1192.3,866.4 1192.9,866.4 1193.5,866.4 1194.1,862.2 1194.7,862.2 1195.3,866.3 1196.0,866.3 1196.6,858.0 1197.2,866.4 1197.8,866.3 1198.4,853.9 1199.0,862.2 1199.6,866.3 1200.3,853.8 1200.9,866.3 1201.5,849.6 1202.1,858.0 1202.7,862.1 1203.3,862.1 1203.9,862.3 1204.5,858.0 1205.2,862.2 1205.8,866.3 1206.4,866.3 1207.0,862.1 1207.6,862.2 1208.2,858.0 1208.8,862.1 1209.4,866.3 1210.1,862.2 1210.7,866.3 1211.3,862.1 1211.9,862.2 1212.5,866.3 1213.1,862.1 1213.7,866.4 1214.3,866.3 1215.0,853.8 1215.6,862.1 1216.2,862.2 1216.8,866.3 1217.4,866.3 1218.0,862.1 1218.6,866.3 1219.3,858.0 1219.9,853.8 1220.5,866.3 1221.1,862.1 1221.7,866.3 1222.3,862.1 1222.9,866.3 1223.5,853.8 1224.2,866.3 1224.8,862.0 1225.4,866.2 1226.0,862.0 1226.6,866.3 1227.2,857.9 1227.8,862.0 1228.4,862.1 1229.1,862.0 1229.7,857.7 1230.3,857.7 1230.9,861.8 1231.5,861.8 1232.1,861.9 1232.7,857.5 1233.3,865.9 1234.0,857.4 1234.6,857.4 1235.2,856.9 1235.8,856.5 1236.4,855.7 1237.0,858.3 1237.6,850.7 1238.3,850.5 1238.9,840.3 1239.5,830.5 1240.1,838.2 1240.7,827.5 1241.3,832.8 1241.9,841.8 1242.5,832.2 1243.2,846.9 1243.8,848.3 1244.4,849.3 1245.0,845.6 1245.6,840.9 1246.2,856.0 1246.8,855.0 1247.4,853.3 1248.1,859.6 1248.7,864.4 1249.3,848.5 1249.9,861.5 1250.5,865.6 1251.1,865.9 1251.7,866.0 1252.3,857.7 1253.0,866.0 1253.6,861.9 1254.2,866.1 1254.8,862.0 1255.4,862.0 1256.0,866.1 1256.6,857.8 1257.3,866.3 1257.9,862.1 1258.5,862.0 1259.1,861.9 1259.7,866.3 1260.3,866.3 1260.9,862.0 1261.5,862.1 1262.2,853.8 1262.8,857.9 1263.4,862.1 1264.0,858.0 1264.6,862.2 1265.2,862.1 1265.8,866.3 1266.4,858.0 1267.1,857.9 1267.7,866.3 1268.3,853.7 1268.9,857.9 1269.5,866.3 1270.1,857.9 1270.7,862.1 1271.3,857.9 1272.0,866.2 1272.6,862.1 1273.2,862.1 1273.8,866.3 1274.4,857.9 1275.0,862.1 1275.6,862.2 1276.3,866.3 1276.9,862.2 1277.5,866.3 1278.1,862.1 1278.7,866.2 1279.3,862.1 1279.9,866.3 1280.5,862.1 1281.2,862.1 1281.8,862.2 1282.4,849.6 1283.0,866.2 1283.6,862.0 1284.2,866.3 1284.8,862.1 1285.4,862.1 1286.1,866.3 1286.7,866.3 1287.3,857.9 1287.9,857.9 1288.5,862.1 1289.1,862.1 1289.7,866.2 1290.3,866.3 1291.0,866.3 1291.6,866.3 1292.2,866.3 1292.8,857.9 1293.4,857.9 1294.0,866.1 1294.6,857.9 1295.3,853.7 1295.9,857.9 1296.5,862.0 1297.1,866.2 1297.7,853.8 1298.3,857.9 1298.9,862.0 1299.5,862.2 1300.2,853.6 1300.8,853.7 1301.4,862.0 1302.0,862.0 1302.6,857.9 1303.2,862.0 1303.8,862.0 1304.4,866.2 1305.1,862.0 1305.7,866.3 1306.3,862.1 1306.9,857.9 1307.5,866.1 1308.1,862.1 1308.7,857.7 1309.3,866.2 1310.0,862.0 1310.6,857.7 1311.2,862.0 1311.8,862.0 1312.4,866.1 1313.0,866.1 1313.6,857.8 1314.3,861.8 1314.9,866.1 1315.5,862.0 1316.1,857.8 1316.7,857.7 1317.3,861.9 1317.9,861.8 1318.5,861.7 1319.2,866.0 1319.8,865.9 1320.4,857.7 1321.0,857.7 1321.6,865.9 1322.2,866.1 1322.8,857.6 1323.4,857.6 1324.1,866.0 1324.7,861.8 1325.3,866.0 1325.9,865.9 1326.5,861.6 1327.1,861.7 1327.7,861.6 1328.3,865.8 1329.0,865.9 1329.6,861.7 1330.2,861.6 1330.8,857.5 1331.4,861.6 1332.0,865.7 1332.6,861.5 1333.3,857.3 1333.9,861.6 1334.5,857.4 1335.1,865.7 1335.7,861.6 1336.3,861.4 1336.9,857.2 1337.5,853.0 1338.2,861.2 1338.8,861.0 1339.4,865.4 1340.0,861.1 1340.6,856.9 1341.2,865.3 1341.8,864.9 1342.4,865.0 1343.1,852.3 1343.7,860.8 1344.3,860.3 1344.9,864.4 1345.5,860.5 1346.1,860.3 1346.7,860.1 1347.3,864.1 1348.0,860.0 1348.6,842.9 1349.2,859.3 1349.8,859.3 1350.4,863.5 1351.0,858.8 1351.6,862.6 1352.3,861.9 1352.9,861.7 1353.5,852.9 1354.1,851.5 1354.7,854.5 1355.3,844.2 1355.9,846.1 1356.5,829.8 1357.2,842.2 1357.8,842.0 1358.4,834.5 1359.0,823.0 1359.6,808.1 1360.2,809.4 1360.8,806.5 1361.4,807.9 1362.1,809.9 1362.7,811.2 1363.3,810.6 1363.9,810.2 1364.5,813.9 1365.1,816.4 1365.7,828.5 1366.3,829.1 1367.0,821.3 1367.6,833.7 1368.2,841.2 1368.8,849.9 1369.4,852.1 1370.0,851.4 1370.6,840.2 1371.3,854.1 1371.9,859.2 1372.5,851.9 1373.1,852.2 1373.7,860.6 1374.3,846.8 1374.9,858.3 1375.5,852.0 1376.2,848.7 1376.8,848.2 1377.4,834.6 1378.0,828.4 1378.6,829.5 1379.2,828.8 1379.8,829.0 1380.4,822.0 1381.1,833.4 1381.7,832.2 1382.3,838.5 1382.9,836.5 1383.5,830.7 1384.1,840.3 1384.7,846.9 1385.3,845.5 1386.0,844.6 1386.6,855.9 1387.2,858.1 1387.8,856.5 1388.4,853.1 1389.0,854.7 1389.6,863.8 1390.3,859.8 1390.9,851.7 1391.5,864.4 1392.1,860.4 1392.7,856.4 1393.3,860.8 1393.9,852.5 1394.5,852.6 1395.2,861.0 1395.8,865.0 1396.4,860.9 1397.0,865.3 1397.6,865.4 1398.2,865.4 1398.8,865.6 1399.4,861.3 1400.1,865.5 1400.7,865.5 1401.3,861.4 1401.9,865.7 1402.5,857.1 1403.1,865.4 1403.7,865.8 1404.3,861.4 1405.0,861.3 1405.6,853.2 1406.2,857.4 1406.8,865.6 1407.4,865.6 1408.0,857.3 1408.6,857.1 1409.3,861.3 1409.9,865.6 1410.5,861.5 1411.1,861.5 1411.7,861.4 1412.3,857.3 1412.9,861.3 1413.5,865.5 1414.2,865.7 1414.8,857.2 1415.4,861.3 1416.0,861.4 1416.6,857.3 1417.2,865.6 1417.8,865.6 1418.4,861.4 1419.1,861.4 1419.7,865.6 1420.3,861.3 1420.9,861.2 1421.5,853.1 1422.1,861.5 1422.7,861.3 1423.3,853.0 1424.0,861.2 1424.6,865.5 1425.2,861.2 1425.8,865.5 1426.4,865.3 1427.0,865.2 1427.6,865.4 1428.3,857.3 1428.9,861.2 1429.5,848.7 1430.1,861.1 1430.7,852.7 1431.3,865.1 1431.9,864.8 1432.5,861.0 1433.2,861.0 1433.8,856.7 1434.4,865.2 1435.0,860.7 1435.6,865.0 1436.2,865.1 1436.8,856.6 1437.4,860.6 1438.1,860.5 1438.7,864.5 1439.3,864.6 1439.9,864.7 1440.5,864.4 1441.1,856.1 1441.7,847.3 1442.3,864.6 1443.0,855.6 1443.6,859.8 1444.2,859.8 1444.8,859.7 1445.4,855.5 1446.0,863.8 1446.6,859.6 1447.3,863.0 1447.9,863.1 1448.5,863.0 1449.1,854.5 1449.7,858.9 1450.3,862.6 1450.9,854.0 1451.5,845.2 1452.2,862.1 1452.8,857.3 1453.4,857.2 1454.0,852.6 1454.6,852.4 1455.2,851.8 1455.8,851.4 1456.4,855.6 1457.1,850.1 1457.7,853.4 1458.3,849.4 1458.9,856.3 1459.5,847.7 1460.1,854.6 1460.7,835.4 1461.3,846.1 1462.0,842.1 1462.6,833.6 1463.2,830.4 1463.8,821.6 1464.4,803.9 1465.0,796.3 1465.6,774.6 1466.3,742.8 1466.9,738.2 1467.5,714.6 1468.1,691.4 1468.7,683.5 1469.3,675.0 1469.9,677.1 1470.5,680.2 1471.2,685.6 1471.8,701.5 1472.4,711.9 1473.0,730.4 1473.6,738.5 1474.2,743.4 1474.8,757.9 1475.4,776.9 1476.1,779.2 1476.7,800.7 1477.3,815.5 1477.9,822.2 1478.5,829.5 1479.1,839.0 1479.7,838.2 1480.3,836.1 1481.0,838.1 1481.6,835.2 1482.2,825.5 1482.8,830.4 1483.4,824.7 1484.0,822.0 1484.6,830.3 1485.3,836.0 1485.9,822.5 1486.5,842.1 1487.1,833.5 1487.7,842.1 1488.3,841.8 1488.9,839.8 1489.5,850.5 1490.2,853.5 1490.8,844.5 1491.4,859.6 1492.0,852.5 1492.6,853.4 1493.2,858.3 1493.8,863.0 1494.4,863.0 1495.1,859.2 1495.7,863.4 1496.3,863.8 1496.9,863.7 1497.5,859.5 1498.1,859.9 1498.7,860.0 1499.3,855.7 1500.0,860.0 1500.6,860.1 1501.2,864.4 1501.8,864.6 1502.4,860.2 1503.0,860.2 1503.6,863.8 1504.3,859.5 1504.9,845.4 1505.5,861.1 1506.1,856.4 1506.7,856.4 1507.3,844.0 1507.9,861.1 1508.5,861.9 1509.2,854.4 1509.8,862.7 1510.4,862.8 1511.0,862.7 1511.6,858.7 1512.2,846.4 1512.8,863.6 1513.4,863.9 1514.1,864.5 1514.7,860.4 1515.3,860.9 1515.9,861.0 1516.5,861.1 1517.1,865.4 1517.7,865.6 1518.3,865.3 1519.0,857.1 1519.6,857.2 1520.2,865.6 1520.8,861.4 1521.4,853.1 1522.0,865.6 1522.6,861.5 1523.3,865.6 1523.9,848.9 1524.5,865.7 1525.1,853.0 1525.7,861.5 1526.3,865.7 1526.9,861.5 1527.5,865.7 1528.2,861.5 1528.8,865.6 1529.4,857.4 1530.0,865.8 1530.6,861.5 1531.2,861.8 1531.8,861.6 1532.4,857.4 1533.1,865.8 1533.7,865.9 1534.3,861.7 1534.9,861.7 1535.5,861.7 1536.1,865.8 1536.7,865.8 1537.3,861.7 1538.0,865.7 1538.6,861.7 1539.2,861.8 1539.8,861.7 1540.4,857.5 1541.0,865.8 1541.6,865.8 1542.3,857.5 1542.9,865.9 1543.5,861.7 1544.1,865.9 1544.7,861.7 1545.3,857.6 1545.9,853.4 1546.5,861.7 1547.2,861.7 1547.8,861.8 1548.4,861.6 1549.0,861.7 1549.6,861.6 1550.2,861.6 1550.8,861.8 1551.4,861.6 1552.1,861.8 1552.7,865.7 1553.3,845.0 1553.9,865.9 1554.5,861.9 1555.1,865.9 1555.7,861.8 1556.3,857.4 1557.0,857.6 1557.6,861.7 1558.2,861.6 1558.8,857.5 1559.4,865.8 1560.0,865.9 1560.6,865.8 1561.3,865.9 1561.9,861.6 1562.5,861.7 1563.1,861.6 1563.7,861.7 1564.3,865.8 1564.9,865.7 1565.5,861.5 1566.2,865.9 1566.8,861.7 1567.4,865.9 1568.0,861.5 1568.6,861.7 1569.2,865.7 1569.8,861.6 1570.4,861.7 1571.1,865.7 1571.7,865.8 1572.3,865.7 1572.9,865.6 1573.5,861.4 1574.1,861.6 1574.7,861.4 1575.3,853.1 1576.0,861.6 1576.6,857.1 1577.2,865.5 1577.8,853.2 1578.4,861.4 1579.0,865.7 1579.6,861.4 1580.3,865.6 1580.9,857.2 1581.5,857.3 1582.1,861.4 1582.7,861.4 1583.3,861.3 1583.9,865.4 1584.5,861.3 1585.2,857.0 1585.8,861.2 1586.4,865.4 1587.0,865.3 1587.6,861.3 1588.2,852.8 1588.8,853.0 1589.4,857.0 1590.1,861.1 1590.7,865.1 1591.3,865.3 1591.9,861.1 1592.5,865.2 1593.1,856.8 1593.7,860.9 1594.3,861.0 1595.0,865.2 1595.6,865.2 1596.2,860.6 1596.8,860.9 1597.4,860.8 1598.0,865.0 1598.6,860.5 1599.3,864.8 1599.9,856.2 1600.5,864.7 1601.1,860.4 1601.7,851.9 1602.3,856.0 1602.9,852.1 1603.5,856.1 1604.2,864.3 1604.8,860.3 1605.4,864.0 1606.0,859.8 1606.6,863.9 1607.2,864.1 1607.8,847.1 1608.4,863.6 1609.1,859.2 1609.7,863.6 1610.3,859.1 1610.9,858.7 1611.5,859.0 1612.1,858.9 1612.7,858.7 1613.3,863.0 1614.0,858.4 1614.6,862.0 1615.2,862.3 1615.8,862.0 1616.4,853.1 1617.0,857.2 1617.6,857.0 1618.3,856.9 1618.9,860.7 1619.5,860.4 1620.1,859.9 1620.7,855.5 1621.3,850.7 1621.9,855.2 1622.5,858.2 1623.2,849.7 1623.8,853.2 1624.4,848.5 1625.0,851.6 1625.6,855.1 1626.2,849.6 1626.8,840.3 1627.4,846.5 1628.1,843.6 1628.7,840.3 1629.3,836.5 1629.9,834.5 1630.5,823.0 1631.1,809.0 1631.7,801.3 1632.3,790.3 1633.0,758.0 1633.6,747.7 1634.2,733.0 1634.8,717.6 1635.4,698.1 1636.0,683.8 1636.6,673.6 1637.3,648.6 1637.9,657.2 1638.5,659.5 1639.1,666.3 1639.7,665.7 1640.3,687.2 1640.9,698.6 1641.5,708.8 1642.2,716.9 1642.8,731.1 1643.4,734.3 1644.0,751.5 1644.6,758.7 1645.2,784.2 1645.8,791.0 1646.4,807.1 1647.1,815.9 1647.7,815.5 1648.3,828.4 1648.9,825.5 1649.5,842.8 1650.1,829.9 1650.7,845.6 1651.3,843.5 1652.0,849.3 1652.6,846.8 1653.2,851.9 1653.8,856.9 1654.4,853.9 1655.0,858.5 1655.6,859.1 1656.3,859.3 1656.9,860.0 1657.5,856.1 1658.1,860.2 1658.7,860.9 1659.3,849.0 1659.9,844.7 1660.5,857.4 1661.2,862.0 1661.8,857.9 1662.4,849.6 1663.0,854.2 1663.6,862.7 1664.2,858.8 1664.8,858.7 1665.4,854.8 1666.1,859.2 1666.7,859.2 1667.3,859.0 1667.9,863.9 1668.5,863.9 1669.1,851.2 1669.7,851.6 1670.3,863.7 1671.0,864.3 1671.6,864.4 1672.2,864.3 1672.8,860.0 1673.4,860.1 1674.0,860.2 1674.6,864.5 1675.3,864.4 1675.9,864.9 1676.5,860.5 1677.1,864.6 1677.7,864.9 1678.3,864.8 1678.9,860.6 1679.5,856.4 1680.2,865.0 1680.8,864.8 1681.4,860.8 1682.0,860.8 1682.6,865.2 1683.2,856.9 1683.8,861.1 1684.4,852.5 1685.1,857.2 1685.7,865.5 1686.3,861.1 1686.9,852.8 1687.5,865.7 1688.1,865.4 1688.7,865.5 1689.3,865.3 1690.0,865.7 1690.6,865.5 1691.2,865.4 1691.8,852.9 1692.4,857.3 1693.0,861.4 1693.6,865.7 1694.3,861.3 1694.9,861.5 1695.5,865.5 1696.1,853.1 1696.7,857.4 1697.3,861.5 1697.9,849.0 1698.5,857.3 1699.2,865.6 1699.8,861.5 1700.4,849.1 1701.0,849.0 1701.6,865.9 1702.2,857.5 1702.8,861.6 1703.4,861.6 1704.1,865.9 1704.7,865.9 1705.3,865.9 1705.9,861.7 1706.5,861.6 1707.1,845.1 1707.7,857.6 1708.3,861.7 1709.0,861.7 1709.6,857.6 1710.2,853.5 1710.8,861.8 1711.4,866.0 1712.0,866.0 1712.6,861.8 1713.2,861.8 1713.9,857.6 1714.5,861.7 1715.1,849.3 1715.7,865.9 1716.3,861.8 1716.9,866.1 1717.5,861.9 1718.2,861.8 1718.8,849.3 1719.4,861.9 1720.0,861.7 1720.6,866.1 1721.2,866.1 1721.8,861.9 1722.4,861.8 1723.1,857.7 1723.7,857.7 1724.3,862.1 1724.9,861.9 1725.5,857.8 1726.1,866.1 1726.7,862.0 1727.3,861.9 1728.0,862.0 1728.6,862.0 1729.2,862.1 1729.8,857.7 1730.4,857.8 1731.0,857.9 1731.6,861.9 1732.2,862.0 1732.9,866.2 1733.5,862.1 1734.1,853.7 1734.7,866.2 1735.3,862.0 1735.9,853.7 1736.5,866.1 1737.2,861.9 1737.8,866.2 1738.4,866.2 1739.0,866.3 1739.6,866.2 1740.2,866.3 1740.8,849.5 1741.4,866.2 1742.1,866.2 1742.7,857.8 1743.3,853.7 1743.9,853.7 1744.5,862.0 1745.1,866.2 1745.7,862.0 1746.3,857.9 1747.0,866.3 1747.6,862.0 1748.2,866.2 1748.8,853.7 1749.4,862.0 1750.0,857.9 1750.6,853.8 1751.2,857.9 1751.9,866.3 1752.5,862.2 1753.1,862.0 1753.7,857.9 1754.3,866.1 1754.9,857.9 1755.5,862.1 1756.2,866.3 1756.8,862.1 1757.4,862.1 1758.0,857.9 1758.6,866.3 1759.2,857.9 1759.8,866.4 1760.4,862.1 1761.1,858.0 1761.7,866.2 1762.3,866.3 1762.9,866.3 1763.5,862.1 1764.1,866.3 1764.7,866.2 1765.3,858.0 1766.0,862.2 1766.6,857.9 1767.2,866.2 1767.8,858.0 1768.4,862.1 1769.0,862.1 1769.6,862.1 1770.2,862.1 1770.9,862.1 1771.5,862.1 1772.1,866.2 1772.7,866.4 1773.3,862.1 1773.9,862.1 1774.5,858.0 1775.2,866.4 1775.8,857.9 1776.4,862.2 1777.0,862.2 1777.6,849.7 1778.2,866.3 1778.8,862.2 1779.4,866.4 1780.1,862.2 1780.7,866.3 1781.3,858.0 1781.9,862.1 1782.5,866.3 1783.1,858.0 1783.7,862.1 1784.3,862.2 1785.0,862.1 1785.6,862.2 1786.2,862.2 1786.8,866.3 1787.4,858.0 1788.0,858.0 1788.6,866.4 1789.2,858.0 1789.9,862.1 1790.5,866.4 1791.1,866.3 1791.7,866.4 1792.3,866.3 1792.9,866.4 1793.5,853.9 1794.2,862.1 1794.8,862.2 1795.4,862.2 1796.0,866.3 1796.6,853.8 1797.2,866.3 1797.8,862.2 1798.4,858.0 1799.1,866.3 1799.7,858.0 1800.3,862.2 1800.9,858.0 1801.5,866.4 1802.1,862.2 1802.7,862.2 1803.3,862.2 1804.0,862.2 1804.6,858.0 1805.2,862.2 1805.8,862.2 1806.4,862.3 1807.0,862.2 1807.6,862.2 1808.2,862.2 1808.9,858.0 1809.5,862.2 1810.1,862.2 1810.7,866.3 1811.3,849.8 1811.9,866.3 1812.5,866.4 1813.2,866.4 1813.8,858.0 1814.4,858.1 1815.0,858.1 1815.6,866.4 1816.2,862.2 1816.8,862.2 1817.4,866.4 1818.1,862.1 1818.7,862.2 1819.3,866.3 1819.9,862.2 1820.5,862.2 1821.1,866.3 1821.7,866.4 1822.3,862.2 1823.0,866.4 1823.6,866.3 1824.2,862.2 1824.8,862.2 1825.4,862.2 1826.0,858.1 1826.6,862.2 1827.2,862.2 1827.9,862.2 1828.5,862.2 1829.1,853.9 1829.7,862.2 1830.3,866.4 1830.9,866.4 1831.5,866.3 1832.2,862.2 1832.8,858.0 1833.4,866.4 1834.0,866.4 1834.6,866.4 1835.2,866.4 1835.8,862.2 1836.4,853.9 1837.1,853.9 1837.7,858.1 1838.3,858.0 1838.9,862.2 1839.5,862.3 1840.1,862.3 1840.7,862.2 1841.3,858.0 1842.0,866.4 1842.6,866.4 1843.2,862.2 1843.8,862.2 1844.4,862.2 1845.0,862.3 1845.6,862.3 1846.2,866.4 1846.9,862.2 1847.5,849.8 1848.1,866.4 1848.7,866.4 1849.3,866.4 1849.9,862.3 1850.5,866.4 1851.2,862.2 1851.8,866.4 1852.4,866.4 1853.0,862.2 1853.6,866.4 1854.2,853.9 1854.8,858.1 1855.4,866.4 1856.1,862.2 1856.7,849.7 1857.3,866.4 1857.9,866.4 1858.5,866.4 1859.1,853.9 1859.7,862.2 1860.3,858.1 1861.0,862.2 1861.6,862.2 1862.2,862.3 1862.8,866.4 1863.4,866.4 1864.0,866.5 1864.6,862.3 1865.2,858.1 1865.9,858.1 1866.5,866.4 1867.1,858.0 1867.7,862.2 1868.3,862.3 1868.9,862.2 1869.5,858.0 1870.2,862.2 1870.8,862.3 1871.4,862.2 1872.0,862.2 1872.6,862.2 1873.2,862.2 1873.8,862.2 1874.4,866.4 1875.1,853.9 1875.7,866.4 1876.3,866.4 1876.9,858.1 1877.5,862.2 1878.1,858.0 1878.7,862.2 1879.3,862.2 1880.0,866.4 1880.6,866.4 1881.2,862.3 1881.8,866.4 1882.4,866.4 1883.0,866.4 1883.6,862.3 1884.2,862.2 1884.9,849.7 1885.5,858.1 1886.1,858.1 1886.7,862.2 1887.3,862.3 1887.9,866.4 1888.5,866.4 1889.2,862.2 1889.8,849.7 1890.4,866.5 1891.0,862.3 1891.6,858.0 1892.2,866.4 1892.8,858.0 1893.4,866.4 1894.1,858.1 1894.7,858.1 1895.3,858.0 1895.9,866.4 1896.5,862.2 1897.1,862.3 1897.7,866.4 1898.3,858.1 1899.0,866.4 1899.6,862.2 1900.2,866.4 1900.8,862.2 1901.4,853.9 1902.0,866.4 1902.6,858.1 1903.2,866.4 1903.9,862.2 1904.5,866.4 1905.1,862.2 1905.7,862.2 1906.3,866.4 1906.9,866.4 1907.5,849.7 1908.2,866.4 1908.8,866.3 1909.4,866.4 1910.0,862.2 1910.6,866.4 1911.2,866.4 1911.8,862.1 1912.4,866.4 1913.1,866.4 1913.7,858.0 1914.3,866.4 1914.9,862.2 1915.5,866.3 1916.1,862.2 1916.7,862.2 1917.3,866.4 1918.0,866.4 1918.6,858.0 1919.2,862.2 1919.8,862.2 1920.4,862.3 1921.0,853.8 1921.6,862.2 1922.2,866.4 1922.9,862.2 1923.5,866.4 1924.1,866.4 1924.7,853.8 1925.3,862.2 1925.9,853.9 1926.5,858.0 1927.2,858.0 1927.8,866.3 1928.4,866.3 1929.0,858.0 1929.6,845.5 1930.2,858.0 1930.8,866.3 1931.4,866.3 1932.1,853.8 1932.7,866.3 1933.3,853.9 1933.9,866.4 1934.5,858.0 1935.1,862.1 1935.7,862.2 1936.3,862.1 1937.0,862.1 1937.6,862.2 1938.2,862.1 1938.8,862.1 1939.4,866.3 1940.0,866.3 1940.6,862.1 1941.2,862.1 1941.9,862.1 1942.5,853.6 1943.1,866.3 1943.7,862.1 1944.3,862.1 1944.9,858.0 1945.5,866.2 1946.2,853.9 1946.8,862.1 1947.4,858.0 1948.0,866.3 1948.6,862.1 1949.2,862.1 1949.8,862.1 1950.4,853.6 1951.1,857.9 1951.7,866.2 1952.3,866.2 1952.9,857.8 1953.5,857.8 1954.1,862.0 1954.7,866.1 1955.3,857.8 1956.0,866.2 1956.6,866.1 1957.2,866.2 1957.8,862.0 1958.4,862.0 1959.0,862.0 1959.6,861.9 1960.2,861.8 1960.9,853.5 1961.5,866.0 1962.1,861.9 1962.7,861.8 1963.3,857.7 1963.9,861.8 1964.5,865.8 1965.2,861.8 1965.8,865.9 1966.4,857.5 1967.0,865.8 1967.6,865.8 1968.2,865.9 1968.8,861.7 1969.4,865.6 1970.1,857.4 1970.7,861.5 1971.3,865.6 1971.9,857.4 1972.5,857.2 1973.1,857.2 1973.7,861.2 1974.3,865.4 1975.0,865.5 1975.6,865.1 1976.2,865.4 1976.8,865.0 1977.4,856.6 1978.0,852.4 1978.6,856.3 1979.2,860.2 1979.9,852.0 1980.5,860.1 1981.1,855.6 1981.7,859.5 1982.3,863.4 1982.9,863.2 1983.5,862.9 1984.2,858.3 1984.8,857.6 1985.4,860.5 1986.0,850.6 1986.6,844.4 1987.2,851.0 1987.8,843.2 1988.4,847.2 1989.1,834.0 1989.7,837.6 1990.3,830.6 1990.9,822.4 1991.5,820.5 1992.1,824.2 1992.7,821.2 1993.3,816.5 1994.0,832.1 1994.6,835.0 1995.2,829.0 1995.8,827.1 1996.4,840.5 1997.0,837.7 1997.6,843.1 1998.2,828.7 1998.9,842.8 1999.5,832.2 2000.1,846.3 2000.7,850.1 2001.3,848.6 2001.9,855.3 2002.5,852.6 2003.2,850.6 2003.8,848.5 2004.4,857.2 2005.0,854.2 2005.6,858.9 2006.2,863.7 2006.8,855.2 2007.4,859.9 2008.1,864.1 2008.7,860.4 2009.3,851.9 2009.9,856.3 2010.5,860.6 2011.1,864.9 2011.7,860.7 2012.3,852.5 2013.0,865.0 2013.6,856.5 2014.2,864.8 2014.8,865.0 2015.4,864.8 2016.0,860.4 2016.6,864.3 2017.2,859.2 2017.9,857.8 2018.5,851.1 2019.1,855.5 2019.7,846.2 2020.3,832.4 2020.9,832.4 2021.5,839.0 2022.2,837.5 2022.8,842.1 2023.4,846.6 2024.0,851.1 2024.6,857.6 2025.2,850.9 2025.8,858.9 2026.4,852.7 2027.1,850.8 2027.7,853.3 2028.3,847.7 2028.9,848.5 2029.5,847.1 2030.1,854.2 2030.7,860.6 2031.3,858.4 2032.0,859.9 2032.6,856.2 2033.2,861.0 2033.8,865.3 2034.4,857.3 2035.0,861.5 2035.6,844.9 2036.2,866.0 2036.9,861.5 2037.5,861.9 2038.1,866.1 2038.7,857.7 2039.3,866.1 2039.9,861.9 2040.5,866.1 2041.2,861.9 2041.8,861.9 2042.4,866.1 2043.0,857.8 2043.6,862.0 2044.2,862.0 2044.8,849.5 2045.4,866.2 2046.1,862.1 2046.7,866.2 2047.3,857.9 2047.9,862.1 2048.5,862.1 2049.1,853.8 2049.7,862.0 2050.3,862.2 2051.0,862.0 2051.6,857.9 2052.2,866.2 2052.8,862.1 2053.4,862.1 2054.0,866.3 2054.6,866.3 2055.2,866.3 2055.9,862.1 2056.5,858.0 2057.1,853.8 2057.7,866.3 2058.3,862.1 2058.9,866.4 2059.5,858.0 2060.2,862.2 2060.8,866.3 2061.4,858.1 2062.0,866.3 2062.6,866.4 2063.2,866.3 2063.8,866.3 2064.4,866.4 2065.1,866.3 2065.7,866.4 2066.3,862.2 2066.9,866.4 2067.5,866.4 2068.1,862.2 2068.7,866.3 2069.3,866.3 2070.0,866.3 2070.6,858.0 2071.2,858.0 2071.8,862.2 2072.4,866.3 2073.0,858.0 2073.6,866.4 2074.2,853.8 2074.9,862.2 2075.5,866.4 2076.1,853.9 2076.7,858.0 2077.3,858.0 2077.9,862.2 2078.5,866.4 2079.2,858.1 2079.8,862.3 2080.4,862.3 2081.0,866.4 2081.6,849.7 2082.2,866.4 2082.8,862.3 2083.4,866.4 2084.1,866.4 2084.7,866.4 2085.3,854.0 2085.9,858.1 2086.5,866.4 2087.1,849.7 2087.7,866.4 2088.3,862.2 2089.0,866.4 2089.6,866.4 2090.2,862.3 2090.8,866.4 2091.4,866.4 2092.0,858.1 2092.6,858.1 2093.2,862.3 2093.9,858.1 2094.5,866.5 2095.1,858.1 2095.7,866.4 2096.3,862.3 2096.9,858.1 2097.5,853.9 2098.2,866.4 2098.8,858.1 2099.4,866.4 2100.0,866.4 2100.6,866.4 2101.2,862.3 2101.8,866.5 2102.4,862.3 2103.1,866.4 2103.7,853.9 2104.3,866.4 2104.9,862.3 2105.5,862.2 2106.1,862.3 2106.7,866.4 2107.3,858.1 2108.0,862.3 2108.6,862.3 2109.2,866.4 2109.8,866.4 2110.4,862.3 2111.0,862.2 2111.6,862.3 2112.2,862.3 2112.9,858.1 2113.5,862.3 2114.1,862.3 2114.7,862.3 2115.3,858.1 2115.9,862.3 2116.5,866.4 2117.2,849.8 2117.8,866.5 2118.4,858.1 2119.0,862.3 2119.6,866.5 2120.2,862.3 2120.8,866.4 2121.4,866.5 2122.1,866.4 2122.7,862.3 2123.3,866.4 2123.9,862.3 2124.5,862.2 2125.1,866.5 2125.7,866.5 2126.3,849.7 2127.0,862.3 2127.6,858.2 2128.2,849.8 2128.8,858.1 2129.4,866.5 2130.0,866.5 2130.6,858.1 2131.2,858.1 2131.9,866.4 2132.5,862.3 2133.1,858.1 2133.7,862.3 2134.3,862.3 2134.9,866.5 2135.5,866.4 2136.2,858.1 2136.8,866.5 2137.4,866.5 2138.0,862.3 2138.6,853.9 2139.2,862.3 2139.8,862.3 2140.4,866.5 2141.1,866.4 2141.7,866.5 2142.3,866.5 2142.9,862.3 2143.5,858.1 2144.1,854.0 2144.7,866.5 2145.3,858.1 2146.0,858.2 2146.6,858.1 2147.2,866.5 2147.8,862.3 2148.4,858.1 2149.0,866.4 2149.6,866.5 2150.2,862.3 2150.9,862.3 2151.5,866.5 2152.1,853.9 2152.7,866.5 2153.3,862.3 2153.9,862.3 2154.5,862.3 2155.2,853.9 2155.8,858.1 2156.4,866.5 2157.0,862.3 2157.6,858.1 2158.2,866.5 2158.8,862.3 2159.4,858.1 2160.1,858.1 2160.7,858.1 2161.3,849.8 2161.9,853.9 2162.5,866.5 2163.1,866.5 2163.7,862.3 2164.3,866.4 2165.0,858.1 2165.6,858.1 2166.2,866.5 2166.8,866.4 2167.4,858.1 2168.0,858.1 2168.6,858.1 2169.2,862.4 2169.9,854.0 2170.5,862.3 2171.1,862.3 2171.7,854.0 2172.3,858.1 2172.9,862.3 2173.5,862.3 2174.2,866.5 2174.8,866.5 2175.4,858.1 2176.0,862.3 2176.6,866.4 2177.2,866.5 2177.8,866.5 2178.4,862.3 2179.1,862.3 2179.7,862.3 2180.3,853.9 2180.9,862.3 2181.5,862.3 2182.1,862.3 2182.7,854.0 2183.3,858.1 2184.0,862.3 2184.6,858.1 2185.2,866.4 2185.8,866.5 2186.4,853.9 2187.0,866.5 2187.6,853.9 2188.2,866.5 2188.9,858.1 2189.5,854.0 2190.1,862.3 2190.7,866.5 2191.3,862.3 2191.9,862.3 2192.5,862.3 2193.2,862.3 2193.8,866.4 2194.4,866.5 2195.0,866.5 2195.6,866.5 2196.2,854.0 2196.8,849.8 2197.4,866.5 2198.1,862.3 2198.7,866.5 2199.3,858.1 2199.9,866.5 2200.5,858.1 2201.1,866.5 2201.7,862.3 2202.3,866.5 2203.0,866.5 2203.6,866.5 2204.2,858.1 2204.8,866.5 2205.4,858.1 2206.0,866.4 2206.6,858.1 2207.2,862.3 2207.9,862.3 2208.5,849.8 2209.1,858.1 2209.7,858.2 2210.3,866.4 2210.9,854.0 2211.5,862.3 2212.2,866.5 2212.8,866.5 2213.4,854.0 2214.0,866.5 2214.6,866.5 2215.2,866.5 2215.8,866.5 2216.4,862.3 2217.1,854.0 2217.7,866.5 2218.3,866.5 2218.9,862.3 2219.5,862.3 2220.1,862.3 2220.7,862.3 2221.3,862.3 2222.0,866.5 2222.6,866.5 2223.2,862.3 2223.8,858.1 2224.4,862.3 2225.0,866.5 2225.6,862.3 2226.2,866.5 2226.9,866.5 2227.5,866.5 2228.1,862.3 2228.7,866.5 2229.3,858.1 2229.9,866.5 2230.5,866.5 2231.2,866.5 2231.8,866.5 2232.4,858.1 2233.0,862.3 2233.6,858.1 2234.2,858.1 2234.8,858.1 2235.4,862.3 2236.1,858.1 2236.7,853.9 2237.3,866.5 2237.9,862.3 2238.5,862.3 2239.1,866.5 2239.7,862.3 2240.3,858.1 2241.0,854.0 2241.6,858.1 2242.2,866.5 2242.8,866.5 2243.4,858.1 2244.0,862.3 2244.6,862.3 2245.2,862.3 2245.9,858.1 2246.5,866.5 2247.1,866.5 2247.7,862.3 2248.3,866.5 2248.9,866.5 2249.5,858.1 2250.2,866.5 2250.8,858.2 2251.4,862.3 2252.0,858.1 2252.6,858.1 2253.2,866.5 2253.8,866.5 2254.4,866.5 2255.1,866.5 2255.7,862.3 2256.3,862.3 2256.9,862.3 2257.5,862.3 2258.1,862.3 2258.7,862.3 2259.3,862.3 2260.0,858.2 2260.6,866.5 2261.2,862.3 2261.8,866.5 2262.4,866.5 2263.0,858.1 2263.6,862.3 2264.2,858.2 2264.9,858.1 2265.5,862.3 2266.1,866.5 2266.7,866.5 2267.3,866.5 2267.9,854.0 2268.5,862.3 2269.2,862.3 2269.8,858.1 2270.4,866.5 2271.0,854.0 2271.6,862.3 2272.2,862.3 2272.8,862.3 2273.4,866.5 2274.1,866.5 2274.7,854.0 2275.3,866.5 2275.9,866.5 2276.5,858.2 2277.1,862.3 2277.7,853.9 2278.3,858.1 2279.0,862.3 2279.6,866.5 2280.2,862.3 2280.8,854.0 2281.4,862.3 2282.0,866.5 2282.6,866.5 2283.2,854.0 2283.9,866.5 2284.5,862.3 2285.1,862.3 2285.7,866.5 2286.3,858.2 2286.9,858.1 2287.5,866.5 2288.2,854.0 2288.8,866.5 2289.4,862.3 2290.0,866.5 2290.6,858.1 2291.2,866.5 2291.8,854.0 2292.4,858.1 2293.1,862.3 2293.7,862.3 2294.3,866.5 2294.9,862.3 2295.5,854.0 2296.1,862.3 2296.7,866.5 2297.3,866.5 2298.0,866.5 2298.6,858.2 2299.2,866.5 2299.8,866.5 2300.4,866.5 2301.0,866.5 2301.6,854.0 2302.2,862.3 2302.9,866.5 2303.5,866.5 2304.1,862.3 2304.7,866.5 2305.3,862.3 2305.9,862.3 2306.5,866.5 2307.2,866.5 2307.8,862.3 2308.4,858.1 2309.0,866.5 2309.6,862.3 2310.2,866.5 2310.8,862.3 2311.4,858.1 2312.1,866.5 2312.7,858.1 2313.3,866.5 2313.9,858.2 2314.5,858.1 2315.1,858.2 2315.7,862.3 2316.3,862.3 2317.0,866.5 2317.6,866.5 2318.2,862.3 2318.8,862.3 2319.4,862.3 2320.0,866.5 2320.6,858.1 2321.2,862.3 2321.9,866.5 2322.5,854.0 2323.1,862.3 2323.7,862.3 2324.3,862.3 2324.9,862.3 2325.5,858.1 2326.1,866.5 2326.8,866.5 2327.4,866.5 2328.0,862.3 2328.6,854.0" fill="none" stroke="#3A6BB0" stroke-width="12.0" stroke-linejoin="round" stroke-linecap="round"/>
<rect x="263.0" y="764.9" width="43" height="43" fill="#000"/>
<rect x="626.1" y="645.3" width="43" height="43" fill="#000"/>
<rect x="788.0" y="156.8" width="43" height="43" fill="#000"/>
<rect x="839.0" y="757.5" width="43" height="43" fill="#000"/>
<rect x="1021.1" y="650.9" width="43" height="43" fill="#000"/>
<rect x="1341.9" y="740.8" width="43" height="43" fill="#000"/>
<rect x="1448.5" y="618.4" width="43" height="43" fill="#000"/>
<rect x="1617.1" y="590.8" width="43" height="43" fill="#000"/>
<rect x="1971.0" y="765.0" width="43" height="43" fill="#000"/>
<path d="M462.5 761.0L492.0 790.5L462.5 820.0L433.0 790.5Z" fill="#E01A1E"/>
<path d="M736.8 737.9L766.3 767.4L736.8 796.9L707.3 767.4Z" fill="#E01A1E"/>
<path d="M1240.7 763.1L1270.2 792.6L1240.7 822.1L1211.2 792.6Z" fill="#E01A1E"/>
<path d="M1381.8 762.9L1411.3 792.4L1381.8 821.9L1352.3 792.4Z" fill="#E01A1E"/>
</g>
<!-- legend -->
<rect x="1175" y="177" width="165" height="10" fill="#3A6BB0"/>
<rect x="1236" y="271" width="43" height="43" fill="#000"/>
<path d="M1257.5 370.0L1287.0 399.5L1257.5 429.0L1228.0 399.5Z" fill="#E01A1E"/>
<text x="1359.00" y="206.20" style="font-family:'Liberation Serif','Times New Roman',serif;font-size:77.7px;font-weight:bold;font-style:normal" fill="#3A6BB0" textLength="311.57" lengthAdjust="spacingAndGlyphs" stroke="#fff" stroke-width="1.0">Magnetic</text>
<text x="1687.00" y="206.20" style="font-family:'Liberation Serif','Times New Roman',serif;font-size:77.7px;font-weight:bold;font-style:normal" fill="#3A6BB0" textLength="381.11" lengthAdjust="spacingAndGlyphs" stroke="#fff" stroke-width="1.0">concentrate</text>
<text x="1359.00" y="316.70" style="font-family:'Liberation Serif','Times New Roman',serif;font-size:77.7px;font-weight:bold;font-style:normal" fill="#000" textLength="338.58" lengthAdjust="spacingAndGlyphs" stroke="#fff" stroke-width="1.0">Magnetite</text>
<text x="1709.50" y="316.70" style="font-family:'Liberation Serif','Times New Roman',serif;font-size:77.7px;font-weight:bold;font-style:normal" fill="#000" textLength="423.57" lengthAdjust="spacingAndGlyphs" stroke="#fff" stroke-width="1.0">PDF#88-0866</text>
<text x="1357.50" y="423.40" style="font-family:'Liberation Serif','Times New Roman',serif;font-size:77.7px;font-weight:bold;font-style:normal" fill="#E01A1E" textLength="308.10" lengthAdjust="spacingAndGlyphs" stroke="#fff" stroke-width="1.0">Hematite</text>
<text x="1677.50" y="423.40" style="font-family:'Liberation Serif','Times New Roman',serif;font-size:77.7px;font-weight:bold;font-style:normal" fill="#E01A1E" textLength="424.07" lengthAdjust="spacingAndGlyphs" stroke="#fff" stroke-width="1.0">PDF#85-0599</text>
<text x="131.00" y="1599.90" style="font-family:'Liberation Serif','Times New Roman',serif;font-size:91.8px;font-weight:bold;font-style:normal" fill="#000" textLength="94.43" lengthAdjust="spacingAndGlyphs" stroke="#fff" stroke-width="0.8">15</text>
<text x="440.50" y="1599.90" style="font-family:'Liberation Serif','Times New Roman',serif;font-size:91.8px;font-weight:bold;font-style:normal" fill="#000" textLength="92.68" lengthAdjust="spacingAndGlyphs" stroke="#fff" stroke-width="0.8">25</text>
<text x="747.00" y="1599.90" style="font-family:'Liberation Serif','Times New Roman',serif;font-size:91.8px;font-weight:bold;font-style:normal" fill="#000" textLength="92.57" lengthAdjust="spacingAndGlyphs" stroke="#fff" stroke-width="0.8">35</text>
<text x="1056.00" y="1599.90" style="font-family:'Liberation Serif','Times New Roman',serif;font-size:91.8px;font-weight:bold;font-style:normal" fill="#000" textLength="91.29" lengthAdjust="spacingAndGlyphs" stroke="#fff" stroke-width="0.8">45</text>
<text x="1360.00" y="1599.90" style="font-family:'Liberation Serif','Times New Roman',serif;font-size:91.8px;font-weight:bold;font-style:normal" fill="#000" textLength="93.21" lengthAdjust="spacingAndGlyphs" stroke="#fff" stroke-width="0.8">55</text>
<text x="1668.00" y="1599.90" style="font-family:'Liberation Serif','Times New Roman',serif;font-size:91.8px;font-weight:bold;font-style:normal" fill="#000" textLength="90.57" lengthAdjust="spacingAndGlyphs" stroke="#fff" stroke-width="0.8">65</text>
<text x="1973.50" y="1599.90" style="font-family:'Liberation Serif','Times New Roman',serif;font-size:91.8px;font-weight:bold;font-style:normal" fill="#000" textLength="92.14" lengthAdjust="spacingAndGlyphs" stroke="#fff" stroke-width="0.8">75</text>
<text x="2281.00" y="1599.90" style="font-family:'Liberation Serif','Times New Roman',serif;font-size:91.8px;font-weight:bold;font-style:normal" fill="#000" textLength="90.50" lengthAdjust="spacingAndGlyphs" stroke="#fff" stroke-width="0.8">85</text>
<text x="1150.50" y="1750.90" style="font-family:'Liberation Serif','Times New Roman',serif;font-size:99.2px;font-weight:bold;font-style:normal" fill="#000" textLength="52.91" lengthAdjust="spacingAndGlyphs" stroke="#fff" stroke-width="0.8">2</text>
<text x="1204.00" y="1750.50" style="font-family:'Liberation Serif','Times New Roman',serif;font-size:98px;font-weight:bold;font-style:italic" fill="#000" textLength="56.61" lengthAdjust="spacingAndGlyphs">θ</text>
<text x="1262.00" y="1751.70" style="font-family:'Liberation Serif','Times New Roman',serif;font-size:110.3px;font-weight:normal;font-style:normal" fill="#000" textLength="31.55" lengthAdjust="spacingAndGlyphs">/</text>
<text x="1314.00" y="1751.80" style="font-family:'Liberation Serif','Times New Roman',serif;font-size:105px;font-weight:normal;font-style:normal" fill="#000" textLength="42.67" lengthAdjust="spacingAndGlyphs">°</text>
<text transform="translate(98.75,914.00) rotate(-90)" x="0" y="0" style="font-family:'Liberation Serif','Times New Roman',serif;font-size:104.8px;font-weight:bold;font-style:normal" fill="#000" textLength="401.08" lengthAdjust="spacingAndGlyphs" stroke="#fff" stroke-width="1.5">Intensity</text>
</svg>
</body></html>
